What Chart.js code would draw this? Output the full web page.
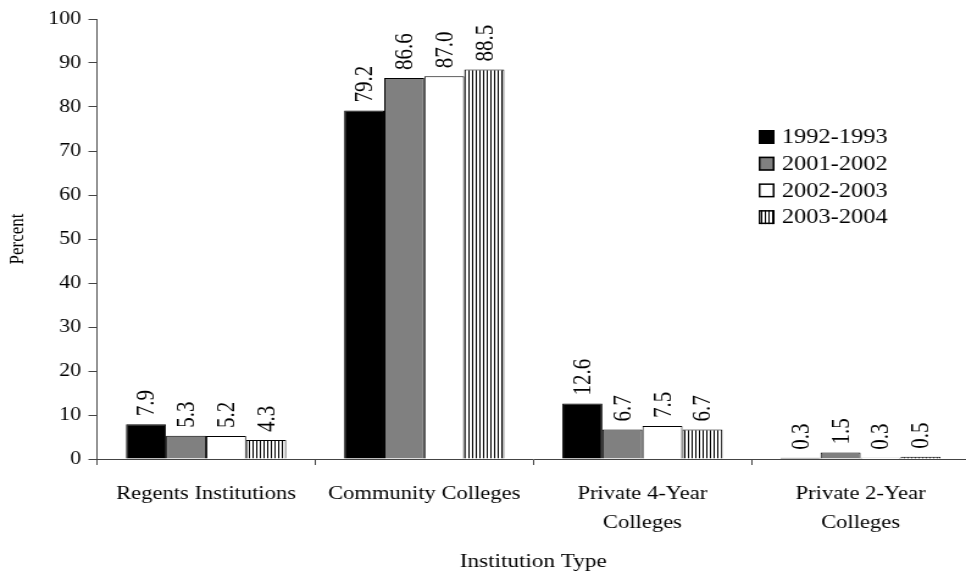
<!DOCTYPE html>
<html>
<head>
<meta charset="utf-8">
<script src="https://cdn.jsdelivr.net/npm/chart.js@4/dist/chart.umd.min.js"></script>
<style>
  html, body { margin: 0; padding: 0; background: #fff; overflow: hidden; }
  /* the original picture is stretched sideways, so draw narrow and scale.
     plot runs a bit past the right edge, like the reference */
  #wrap { width: 800px; height: 573px; transform: scaleX(1.2197); transform-origin: 0 0; }
</style>
</head>
<body>
<div id="wrap"><canvas id="myChart"></canvas></div>
<script>
const categories = [['Regents Institutions'], ['Community Colleges'], ['Private 4-Year', 'Colleges'], ['Private 2-Year', 'Colleges']];
const years = ['1992-1993', '2001-2002', '2002-2003', '2003-2004'];
const v1992 = [7.9, 79.2, 12.6, 0.3];
const v2001 = [5.3, 86.6, 6.7, 1.5];
const v2002 = [5.2, 87.0, 7.5, 0.3];
const v2003 = [4.3, 88.5, 6.7, 0.5];
const yTicks = [0, 10, 20, 30, 40, 50, 60, 70, 80, 90, 100];

const serif = "'Liberation Serif', 'Times New Roman', serif";

function stripes() {
    const c = document.createElement('canvas');
    c.width = 3;
    c.height = 4;
    const g = c.getContext('2d');
    g.fillStyle = '#fff';
    g.fillRect(0, 0, 3, 4);
    g.fillStyle = '#000';
    g.fillRect(0, 0, 1, 4);
    return g.createPattern(c, 'repeat');
}

const fills = ['#000000', '#808080', '#ffffff', stripes()];
const series = [v1992, v2001, v2002, v2003];

// value labels above bars + legend box on the right
const extras = {
    id: 'extras',
    afterDatasetsDraw(chart) {
        const ctx = chart.ctx;
        ctx.save();
        ctx.fillStyle = '#000';
        ctx.font = '21px ' + serif;
        ctx.textAlign = 'left';
        ctx.textBaseline = 'middle';
        chart.data.datasets.forEach((d, i) => {
            chart.getDatasetMeta(i).data.forEach((bar, j) => {
                ctx.save();
                ctx.translate(bar.x + 1, bar.y - 8);
                ctx.rotate(-Math.PI / 2);
                ctx.fillText(d.data[j].toFixed(1), 0, 0);
                ctx.restore();
            });
        });

        ctx.font = '20px ' + serif;
        const lx = 622, ly = 137, step = 26.7;
        years.forEach((y, i) => {
            const cy = ly + i * step;
            ctx.fillStyle = fills[i];
            ctx.fillRect(lx, cy - 7, 13, 14);
            ctx.strokeStyle = '#000';
            ctx.lineWidth = 1.5;
            ctx.strokeRect(lx + 0.75, cy - 6.25, 11.5, 12.5);
            ctx.fillStyle = '#000';
            ctx.fillText(y, lx + 19, cy + 1);
        });
        ctx.restore();
    }
};

const data = {
    labels: categories,
    datasets: series.map((s, i) => ({
        label: years[i],
        data: s,
        backgroundColor: fills[i],
        borderColor: '#000',
        borderWidth: 1,
        borderSkipped: 'bottom',
        barPercentage: 1.0,
        categoryPercentage: 0.734
    }))
};

const config = {
    type: 'bar',
    data,
    options: {
        responsive: true,
        maintainAspectRatio: false,
        animation: false,
        layout: { padding: { top: 19, right: 5, left: 0, bottom: 0 } },
        plugins: { legend: { display: false }, tooltip: { enabled: false } },
        scales: {
            x: {
                grid: { offset: true, drawOnChartArea: false, tickLength: 6, color: '#444' },
                border: { color: '#444' },
                ticks: { color: '#000', font: { family: serif, size: 18.5, lineHeight: 1.55 }, padding: 15, maxRotation: 0, autoSkip: false },
                title: { display: true, text: 'Institution Type', color: '#000', font: { family: serif, size: 19 }, padding: 0 },
                afterFit: s => { s.height = 114; }
            },
            y: {
                min: 0,
                max: 100,
                afterBuildTicks: s => { s.ticks = yTicks.map(v => ({ value: v })); },
                grid: { drawOnChartArea: false, tickLength: 7, color: '#444' },
                border: { color: '#444' },
                ticks: { color: '#000', font: { family: serif, size: 18 }, padding: 6 },
                title: { display: true, text: 'Percent', color: '#000', font: { family: serif, size: 17 }, padding: 4 },
                afterFit: s => { s.width = 79.5; }
            }
        }
    },
    plugins: [extras]
};

const myChart = new Chart(document.getElementById('myChart'), config);
</script>
</body>
</html>
